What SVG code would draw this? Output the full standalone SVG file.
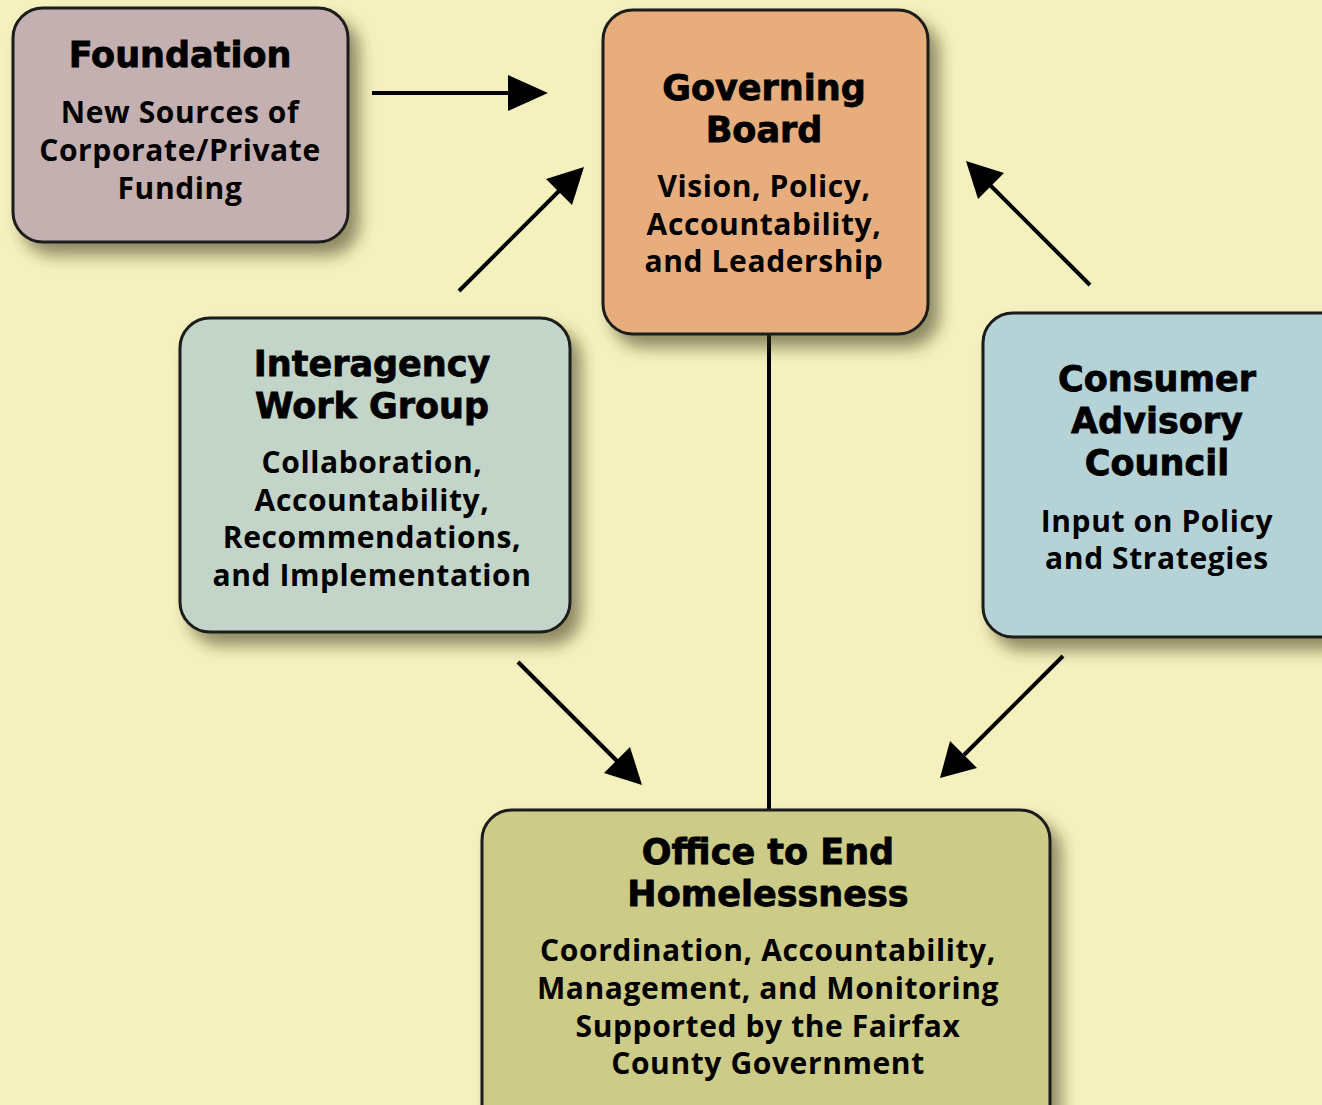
<svg xmlns="http://www.w3.org/2000/svg" width="1322" height="1105" viewBox="0 0 1322 1105">
<defs>
<filter id="sh" x="-20%" y="-20%" width="150%" height="150%">
<feDropShadow dx="10" dy="12" stdDeviation="8" flood-color="#3a3510" flood-opacity="0.55"/>
</filter>
<style>
.box{stroke:#1a1a1a;stroke-width:3;filter:url(#sh)}
.t{font-family:"DejaVu Sans","Liberation Sans",sans-serif;font-weight:700;font-size:35px;text-anchor:middle;fill:#000;stroke:#000;stroke-width:0.8}
.b{font-family:"Open Sans","Liberation Sans",sans-serif;font-weight:700;font-size:30px;letter-spacing:0.6px;text-anchor:middle;fill:#000}
.c{stroke:#000;stroke-width:4;fill:none}
</style>
</defs>
<rect width="1322" height="1105" fill="#f5f1bf"/>
<g id="connectors">
<line class="c" x1="769" y1="334" x2="769" y2="810"/>
<path d="M372,93 H512" class="c"/><path d="M508,75 L548,93 L508,111 Z"/>
<path d="M459,291 L560,190" class="c"/><path d="M546,179 L584,167 L572,205 Z"/>
<path d="M1090,285 L990,185" class="c"/><path d="M978,199 L966,161 L1004,173 Z"/>
<path d="M518,662 L618,762" class="c"/><path d="M604,773 L642,785 L630,747 Z"/>
<path d="M1063,656 L964,755" class="c"/><path d="M950,741 L940,778 L977,768 Z"/>
</g>
<g id="foundation">
<rect class="box" x="13" y="8" width="335" height="234" rx="30" fill="#c4b0b0"/>
<text class="t" x="180" y="67">Foundation</text>
<text class="b" x="180" y="123">New Sources of</text>
<text class="b" x="180" y="161">Corporate/Private</text>
<text class="b" x="180" y="199">Funding</text>
</g>
<g id="governing-board">
<rect class="box" x="603" y="10" width="325" height="324" rx="30" fill="#e8ad7c"/>
<text class="t" x="764" y="100">Governing</text>
<text class="t" x="764" y="142">Board</text>
<text class="b" x="764" y="197">Vision, Policy,</text>
<text class="b" x="764" y="235">Accountability,</text>
<text class="b" x="764" y="272">and Leadership</text>
</g>
<g id="interagency">
<rect class="box" x="180" y="318" width="390" height="314" rx="30" fill="#c2d5c8"/>
<text class="t" x="372" y="376">Interagency</text>
<text class="t" x="372" y="418">Work Group</text>
<text class="b" x="372" y="473">Collaboration,</text>
<text class="b" x="372" y="511">Accountability,</text>
<text class="b" x="372" y="548">Recommendations,</text>
<text class="b" x="372" y="586">and Implementation</text>
</g>
<g id="consumer">
<rect class="box" x="983" y="313" width="370" height="324" rx="30" fill="#b5d3d7"/>
<text class="t" x="1157" y="391">Consumer</text>
<text class="t" x="1157" y="433">Advisory</text>
<text class="t" x="1157" y="475">Council</text>
<text class="b" x="1157" y="532">Input on Policy</text>
<text class="b" x="1157" y="569">and Strategies</text>
</g>
<g id="office">
<rect class="box" x="482" y="810" width="568" height="330" rx="30" fill="#cccc88"/>
<text class="t" x="768" y="864">Office to End</text>
<text class="t" x="768" y="906">Homelessness</text>
<text class="b" x="768" y="961">Coordination, Accountability,</text>
<text class="b" x="768" y="999">Management, and Monitoring</text>
<text class="b" x="768" y="1037">Supported by the Fairfax</text>
<text class="b" x="768" y="1074">County Government</text>
</g>
</svg>
